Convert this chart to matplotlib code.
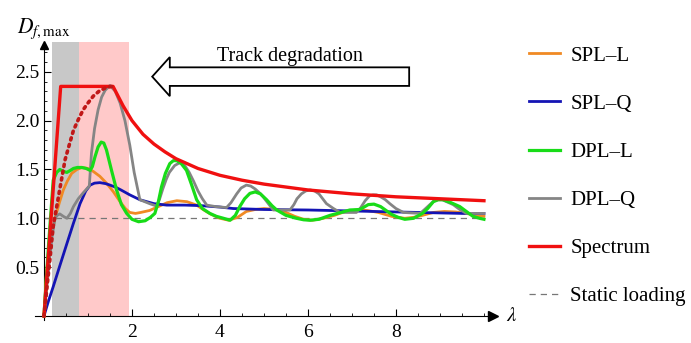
import numpy as np
import matplotlib
matplotlib.use("Agg")
import matplotlib.pyplot as plt

plt.rcParams['font.family'] = ['Liberation Serif', 'DejaVu Serif']
plt.rcParams['mathtext.fontset'] = 'stix'

# spectrum envelope
spec_x = [0, 0.38, 1.57, 1.8, 2.0, 2.25, 2.5, 2.75, 3.0, 3.5, 4.0, 4.5, 5.0, 5.5, 6.0, 7.0, 8.0, 9.0, 10.0]
spec_y = [0, 2.35, 2.35, 2.15, 2.0, 1.86, 1.76, 1.68, 1.61, 1.51, 1.44, 1.39, 1.35, 1.32, 1.29, 1.25, 1.22, 1.20, 1.18]

# dotted red (smooth spectrum)
dot_x = [0, 0.07, 0.14, 0.21, 0.29, 0.36, 0.48, 0.58, 0.67, 0.78, 0.89, 1.0, 1.12, 1.25, 1.42, 1.55]
dot_y = [0, 0.3, 0.6, 0.92, 1.12, 1.3, 1.6, 1.76, 1.9, 2.01, 2.11, 2.18, 2.25, 2.3, 2.34, 2.35]

splL_x = [0, 0.06, 0.14, 0.25, 0.35, 0.44, 0.53, 0.63, 0.75, 0.86, 1.0, 1.12, 1.27, 1.42, 1.58, 1.73, 1.85, 1.95, 2.08, 2.2, 2.4,
          2.6, 2.8, 3.02, 3.25, 3.47, 3.65, 3.8, 4.0, 4.2, 4.4, 4.6, 4.8, 5.0, 5.3, 5.5, 5.7, 5.9, 6.1, 6.35, 6.6, 6.85, 7.1, 7.35,
          7.6, 7.9, 8.2, 8.4, 8.6, 8.85, 9.1, 9.35, 9.6, 9.8, 10.0]
splL_y = [0, 0.47, 0.74, 1.0, 1.16, 1.29, 1.38, 1.46, 1.5, 1.52, 1.51, 1.48, 1.43, 1.36, 1.27, 1.17, 1.1, 1.06, 1.05, 1.06, 1.08,
          1.12, 1.16, 1.18, 1.17, 1.135, 1.08, 1.04, 1.0, 0.98, 1.01, 1.07, 1.09, 1.10, 1.09, 1.06, 1.02, 0.99, 0.98, 1.0, 1.03,
          1.07, 1.085, 1.08, 1.06, 1.02, 1.0, 1.01, 1.03, 1.06, 1.07, 1.065, 1.05, 1.03, 1.02]

splQ_x = [0, 0.1, 0.21, 0.35, 0.52, 0.67, 0.82, 0.95, 1.05, 1.15, 1.27, 1.4, 1.5, 1.62, 1.75, 1.95, 2.18, 2.5, 2.79, 3.2, 3.55,
          4.0, 4.3, 5.0, 6.0, 6.5, 7.0, 8.0, 9.0, 9.5, 10.0]
splQ_y = [0, 0.15, 0.3, 0.5, 0.74, 0.95, 1.15, 1.28, 1.34, 1.36, 1.365, 1.355, 1.34, 1.32, 1.29, 1.24, 1.19, 1.15, 1.135, 1.135,
          1.13, 1.115, 1.10, 1.09, 1.085, 1.08, 1.075, 1.065, 1.055, 1.05, 1.05]

dplL_x = [0, 0.1, 0.21, 0.29, 0.36, 0.44, 0.52, 0.6, 0.67, 0.76, 0.86, 0.96, 1.05, 1.1, 1.16, 1.23, 1.30, 1.36, 1.42, 1.53, 1.65,
          1.76, 1.88, 2.0, 2.15, 2.3, 2.42, 2.52, 2.6, 2.67, 2.76, 2.86, 2.94, 3.02, 3.12, 3.24, 3.35, 3.47, 3.6, 3.77, 3.92, 4.08,
          4.23, 4.35, 4.45, 4.56, 4.68, 4.8, 4.92, 5.06, 5.18, 5.29, 5.5, 5.74, 5.9, 6.05, 6.25, 6.5, 6.75, 6.95, 7.18, 7.37, 7.5,
          7.65, 7.9, 8.05, 8.2, 8.4, 8.6, 8.72, 8.85, 8.96, 9.07, 9.25, 9.45, 9.6, 9.75, 9.9, 10.0]
dplL_y = [0, 0.7, 1.39, 1.47, 1.50, 1.48, 1.47, 1.49, 1.51, 1.52, 1.52, 1.51, 1.49, 1.53, 1.63, 1.73, 1.78, 1.77, 1.70, 1.5, 1.29,
          1.14, 1.05, 0.99, 0.965, 0.975, 1.01, 1.05, 1.17, 1.32, 1.46, 1.56, 1.59, 1.59, 1.56, 1.49, 1.35, 1.19, 1.1, 1.05, 1.02, 1.0,
          0.98, 1.03, 1.12, 1.2, 1.255, 1.27, 1.25, 1.19, 1.13, 1.085, 1.03, 1.0, 0.985, 0.98, 0.99, 1.03, 1.06, 1.085, 1.09, 1.14, 1.145,
          1.12, 1.04, 1.01, 0.99, 1.0, 1.05, 1.1, 1.17, 1.19, 1.19, 1.16, 1.12, 1.07, 1.02, 1.0, 0.99]

dplQ_x = [0, 0.1, 0.18, 0.25, 0.3, 0.36, 0.44, 0.52, 0.6, 0.67, 0.78, 0.89, 1.03, 1.08, 1.15, 1.23, 1.31, 1.39, 1.5, 1.62, 1.73,
          1.84, 1.95, 2.05, 2.18, 2.4, 2.56, 2.63, 2.7, 2.78, 2.85, 2.97, 3.09, 3.2, 3.3, 3.4, 3.5, 3.6, 3.7, 3.9, 4.15, 4.25, 4.38,
          4.48, 4.6, 4.7, 4.8, 4.9, 4.98, 5.1, 5.21, 5.4, 5.59, 5.68, 5.75, 5.85, 5.95, 6.05, 6.15, 6.25, 6.42, 6.58, 6.73, 6.9,
          7.1, 7.2, 7.3, 7.4, 7.48, 7.56, 7.65, 7.76, 7.86, 8.0, 8.17, 8.35, 8.55, 8.65, 8.77, 8.87, 8.96, 9.05, 9.15, 9.3, 9.45,
          9.6, 9.8, 10.0]
dplQ_y = [0, 0.45, 0.8, 1.0, 1.03, 1.045, 1.02, 1.0, 1.05, 1.12, 1.2, 1.26, 1.33, 1.67, 1.92, 2.11, 2.24, 2.31, 2.36, 2.3, 2.18,
          2.0, 1.75, 1.47, 1.19, 1.15, 1.125, 1.2, 1.3, 1.4, 1.47, 1.54, 1.57, 1.54, 1.47, 1.38, 1.28, 1.2, 1.135, 1.12, 1.11, 1.16,
          1.25, 1.31, 1.34, 1.33, 1.3, 1.26, 1.22, 1.15, 1.085, 1.085, 1.085, 1.14, 1.2, 1.25, 1.28, 1.29, 1.28, 1.25, 1.15, 1.1,
          1.06, 1.06, 1.06, 1.11, 1.18, 1.23, 1.24, 1.24, 1.22, 1.19, 1.15, 1.1, 1.06, 1.055, 1.05, 1.09, 1.14, 1.18, 1.19, 1.19,
          1.17, 1.14, 1.09, 1.05, 1.05, 1.05]

names = ["SPL\u2013L", "SPL\u2013Q", "DPL\u2013L", "DPL\u2013Q", "Spectrum", "Static loading"]

fig = plt.figure(figsize=(6.91, 3.43), dpi=100)
ax = fig.add_axes([0.0509, 0.0673, 0.6654, 0.809])
ax.set_xlim(-0.2, 10.25)
ax.set_ylim(-0.04, 2.8)

# shaded bands
ax.fill_between([0.19, 0.80], 0, 2.8, color='#c8c8c8', lw=0, zorder=0)
ax.fill_between([0.80, 1.93], 0, 2.8, color='#ffc9c9', lw=0, zorder=0)

lw = 2.0
h1, = ax.plot(splL_x, splL_y, color='#f08a24', lw=lw, solid_joinstyle='round', zorder=3)
h2, = ax.plot(splQ_x, splQ_y, color='#1414b4', lw=lw, solid_joinstyle='round', zorder=4)
h4, = ax.plot(dplQ_x, dplQ_y, color='#858585', lw=lw, solid_joinstyle='round', zorder=5)
h3, = ax.plot(dplL_x, dplL_y, color='#18dc18', lw=2.3, solid_joinstyle='round', zorder=6)
h5, = ax.plot(spec_x, spec_y, color='#f01010', lw=2.4, solid_joinstyle='round', zorder=7)
ax.plot(dot_x, dot_y, color='#c01818', lw=2.6, ls=(0, (0.6, 1.3)), dash_capstyle='round', zorder=7)
h6, = ax.plot([0, 10], [1, 1], color='#777777', lw=0.9, ls=(0, (5, 4)), zorder=2)

# axes through the origin, Mathematica style
for s in ['top', 'right']:
    ax.spines[s].set_visible(False)
ax.spines['left'].set_position(('data', 0))
ax.spines['bottom'].set_position(('data', 0))
ax.spines['left'].set_bounds(-0.04, 2.78)
ax.spines['bottom'].set_bounds(-0.2, 10.2)
ax.plot(10.2, 0, '>', color='black', ms=7, clip_on=False, zorder=8)
ax.plot(0, 2.77, '^', color='black', ms=6, clip_on=False, zorder=8)

ax.set_xticks([2, 4, 6, 8])
ax.set_xticks(np.arange(0.5, 10.1, 0.5), minor=True)
ax.set_yticks([0.5, 1.0, 1.5, 2.0, 2.5])
ax.set_yticklabels(["0.5", "1.0", "1.5", "2.0", "2.5"])
ax.set_yticks(np.arange(0.1, 2.75, 0.1), minor=True)
ax.tick_params(which='both', direction='in', labelsize=14)
ax.tick_params(which='major', length=5, width=0.8)
ax.tick_params(which='minor', length=2.5, width=0.6)
ax.tick_params(axis='x', pad=6)

ax.text(10.5, 0.0, r'$\lambda$', fontsize=15, va='center', ha='left')
fig.text(0.025, 0.915, r'$D_{f,\mathrm{max}}$', fontsize=15.5, ha='left', va='center')

# track degradation arrow
ax.arrow(8.3, 2.45, -5.84, 0, width=0.19, head_width=0.4, head_length=0.4,
         length_includes_head=True, fc='white', ec='black', lw=1.3, zorder=9)
ax.text(5.6, 2.66, "Track degradation", fontsize=14.5, ha='center', va='center')

fig.legend([h1, h2, h3, h4, h5, h6], names, loc='upper left', bbox_to_anchor=(0.765, 0.866),
           frameon=False, fontsize=15, handlelength=1.5, handletextpad=0.5, labelspacing=1.37,
           borderpad=0, borderaxespad=0)

fig.savefig("out.png", dpi=100)
